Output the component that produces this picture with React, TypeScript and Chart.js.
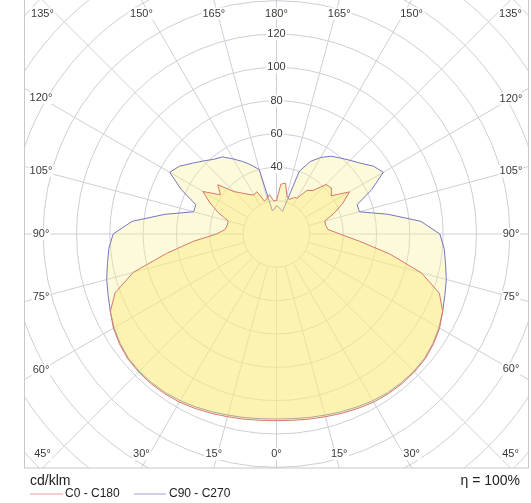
import React, { useEffect, useRef } from "react";
import { Chart, registerables } from "chart.js";

Chart.register(...registerables);

// gamma angles (0 = straight down, 180 = straight up)
const gammaAngles = [0, 5, 10, 15, 20, 25, 30, 35, 40, 45, 50, 55, 60, 65, 70, 75, 80, 85, 90, 95, 100, 105, 110, 115, 120, 125, 130, 135, 140, 145, 150, 155, 160, 165, 170, 175, 180];

// C0 - C180 plane (cd/klm): right half = C0, left half = C180
const c0Values = [112, 112.2, 112.8, 113.5, 114.5, 115.5, 116.5, 117, 117.2, 117, 116.5, 115, 113, 110, 104, 90, 69, 50, 38, 31, 30, 30, 37, 44, 50.5, 40, 43, 42, 34, 32, 25, 24, 22, 24, 31, 30, 20];
const c180Values = [112, 112.2, 112.8, 113.5, 114.5, 115.5, 116.5, 117, 117.2, 117, 116.5, 115, 113, 110, 103, 89, 67, 50, 36, 31, 30, 30, 37, 44, 51, 41, 46, 36, 32, 29, 27, 28, 21, 22, 24, 20, 20];

// C90 - C270 plane (cd/klm): right half = C90, left half = C270
const c90Values = [111, 111.2, 111.8, 112.5, 113.5, 114.5, 115.5, 116.2, 116.5, 116.5, 116, 114.5, 112.5, 110, 107.5, 105.5, 103, 101, 98, 87, 68, 51.5, 51.5, 63, 74, 71, 66, 62.5, 59.5, 57, 53, 48, 40, 14, 15, 16, 17];
const c270Values = [111, 111.2, 111.8, 112.5, 113.5, 114.5, 115.5, 116.2, 116.5, 116.5, 116, 114.5, 112.5, 110, 107.5, 105.5, 103, 101, 98, 87, 68, 51.5, 51.5, 63, 74, 71, 66, 62, 58.5, 56.5, 52, 48, 44, 40, 14, 15, 17];

// grid
const ringValues = [20, 40, 60, 80, 100, 120, 140, 160, 180, 200];
const ringLabelValues = [40, 60, 80, 100, 120];
const radialStep = 15;
const verticalLabelOffsets = [-45, -30, -15, 0, 15, 30, 45];
const sideLabelOffsets = [30, 15, 0, -15, -30];

const seriesNames = ["C0 - C180", "C90 - C270"];
const unitLabel = "cd/klm";
const efficiencyLabel = "\u03B7 = 100%";

const FONT = "'Liberation Sans', Arial, Helvetica, sans-serif";
const RED_LINE = "rgb(214,120,112)";
const BLUE_LINE = "rgb(118,118,192)";
const GRID = "rgb(206,206,216)";

function polygon(right: number[], left: number[]) {
  const pts: { x: number; y: number }[] = [];
  for (let i = 0; i < gammaAngles.length; i++) {
    const t = (gammaAngles[i] * Math.PI) / 180;
    pts.push({ x: right[i] * Math.sin(t), y: -right[i] * Math.cos(t) });
  }
  for (let i = gammaAngles.length - 1; i >= 0; i--) {
    const t = (gammaAngles[i] * Math.PI) / 180;
    pts.push({ x: -left[i] * Math.sin(t), y: -left[i] * Math.cos(t) });
  }
  pts.push({ ...pts[0] });
  return pts;
}

function labelWithBg(ctx: CanvasRenderingContext2D, text: string, x: number, y: number) {
  const w = ctx.measureText(text).width;
  ctx.fillStyle = "#ffffff";
  ctx.fillRect(x - w / 2 - 1, y - 6, w + 2, 12);
  ctx.fillStyle = "#3a3a3a";
  ctx.fillText(text, x, y);
}

const gridPlugin = {
  id: "polarGrid",
  beforeDatasetsDraw(chart: any) {
    const { ctx, chartArea: a, scales } = chart;
    const xs = scales.x;
    const ys = scales.y;
    const cx = xs.getPixelForValue(0);
    const cy = ys.getPixelForValue(0);
    const k = xs.getPixelForValue(1) - cx;
    ctx.save();
    ctx.fillStyle = "#ffffff";
    ctx.fillRect(a.left, a.top, a.right - a.left, a.bottom - a.top);
    ctx.beginPath();
    ctx.rect(a.left, a.top, a.right - a.left, a.bottom - a.top);
    ctx.clip();
    ctx.strokeStyle = GRID;
    ctx.lineWidth = 1;
    for (const v of ringValues) {
      ctx.beginPath();
      ctx.arc(cx, cy, v * k, 0, Math.PI * 2);
      ctx.stroke();
    }
    const r0 = ringValues[0] * k;
    for (let g = 0; g < 360; g += radialStep) {
      const t = (g * Math.PI) / 180;
      const sx = Math.sin(t);
      const sy = Math.cos(t);
      ctx.beginPath();
      ctx.moveTo(cx + sx * r0, cy + sy * r0);
      ctx.lineTo(cx + sx * 1000, cy + sy * 1000);
      ctx.stroke();
    }
    ctx.restore();
  },
  afterDatasetsDraw(chart: any) {
    const { ctx, chartArea: a, scales } = chart;
    const xs = scales.x;
    const ys = scales.y;
    const cx = xs.getPixelForValue(0);
    const cy = ys.getPixelForValue(0);
    ctx.save();
    ctx.font = `11px ${FONT}`;
    ctx.textAlign = "center";
    ctx.textBaseline = "middle";
    // ring labels on the 180° axis
    for (const v of ringLabelValues) {
      labelWithBg(ctx, String(v), cx, ys.getPixelForValue(v));
    }
    // top and bottom angle labels
    for (const off of verticalLabelOffsets) {
      const tn = Math.tan((off * Math.PI) / 180);
      const xt = cx + (cy - a.top) * tn;
      labelWithBg(ctx, `${180 - Math.abs(off)}°`, xt, a.top + 13.5);
      const xb = cx + (a.bottom - cy) * tn;
      labelWithBg(ctx, `${Math.abs(off)}°`, xb, a.bottom - 14);
    }
    // side labels
    for (const off of sideLabelOffsets) {
      const tn = Math.tan((off * Math.PI) / 180);
      const dxL = cx - (a.left + 17);
      const dxR = a.right - 18 - cx;
      labelWithBg(ctx, `${90 + off}°`, a.left + 17, cy - dxL * tn);
      labelWithBg(ctx, `${90 + off}°`, a.right - 18, cy - dxR * tn);
    }
    // frame
    ctx.strokeStyle = "rgb(200,200,200)";
    ctx.lineWidth = 1;
    ctx.strokeRect(a.left + 0.5, a.top - 0.5, a.right - a.left - 1, a.bottom - a.top + 0.5);
    // texts below
    ctx.fillStyle = "#222222";
    ctx.font = `14px ${FONT}`;
    ctx.textAlign = "left";
    ctx.fillText(unitLabel, a.left + 6, a.bottom + 13.5);
    ctx.textAlign = "right";
    ctx.fillText(efficiencyLabel, a.right - 9, a.bottom + 13.5);
    // legend
    const ly = a.bottom + 25.5;
    ctx.font = `12px ${FONT}`;
    ctx.textAlign = "left";
    ctx.lineWidth = 1;
    ctx.strokeStyle = "rgb(232,160,160)";
    ctx.beginPath();
    ctx.moveTo(a.left + 6, ly + 0.5);
    ctx.lineTo(a.left + 39, ly + 0.5);
    ctx.stroke();
    ctx.fillText(seriesNames[0], a.left + 41, ly);
    ctx.strokeStyle = "rgb(160,160,215)";
    ctx.beginPath();
    ctx.moveTo(a.left + 110, ly + 0.5);
    ctx.lineTo(a.left + 142, ly + 0.5);
    ctx.stroke();
    ctx.fillText(seriesNames[1], a.left + 145, ly);
    ctx.restore();
  },
};

export default function App() {
  const ref = useRef<HTMLCanvasElement | null>(null);
  useEffect(() => {
    if (!ref.current) return;
    const chart = new Chart(ref.current, {
      type: "scatter",
      data: {
        datasets: [
          {
            label: seriesNames[0],
            data: polygon(c0Values, c180Values),
            showLine: true,
            fill: "shape",
            borderColor: RED_LINE,
            backgroundColor: "rgba(250,234,118,0.42)",
            borderWidth: 1,
            pointRadius: 0,
            tension: 0,
          },
          {
            label: seriesNames[1],
            data: polygon(c90Values, c270Values),
            showLine: true,
            fill: "shape",
            borderColor: BLUE_LINE,
            backgroundColor: "rgba(250,240,150,0.35)",
            borderWidth: 1,
            pointRadius: 0,
            tension: 0,
          },
        ],
      } as any,
      options: {
        animation: false,
        responsive: false,
        devicePixelRatio: 1,
        layout: { padding: { left: 24, right: 2, top: 0, bottom: 35 } },
        plugins: { legend: { display: false }, tooltip: { enabled: false }, title: { display: false } },
        events: [],
        scales: {
          x: { type: "linear", min: -151.5, max: 151.5, display: false },
          y: { type: "linear", min: -140.4, max: 140.4, display: false },
        },
      } as any,
      plugins: [gridPlugin],
    });
    return () => chart.destroy();
  }, []);
  return (
    <div style={{ position: "absolute", left: 0, top: 0, width: 531, height: 503, background: "#fff" }}>
      <canvas ref={ref} width={531} height={503} style={{ display: "block" }} />
    </div>
  );
}
